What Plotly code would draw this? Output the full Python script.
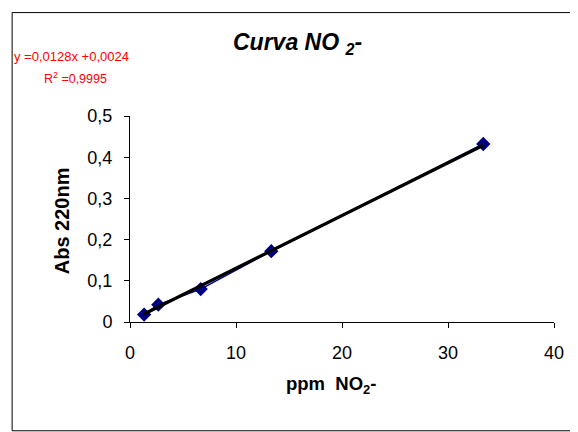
import numpy as np
import plotly.graph_objects as go

# Data
ppm_no2 = [1.33, 2.67, 6.67, 13.33, 33.33]
abs_220 = [0.018, 0.042, 0.080, 0.172, 0.432]
trend_slope = 0.0128
trend_intercept = 0.0024
r_squared = 0.9995
x_ticks = [0, 10, 20, 30, 40]
y_ticks = [0, 0.1, 0.2, 0.3, 0.4, 0.5]

FONT = "Arial, Liberation Sans, sans-serif"

trend_x = np.array([min(ppm_no2), max(ppm_no2)])
trend_y = trend_slope * trend_x + trend_intercept

fig = go.Figure()
fig.add_trace(go.Scatter(
    x=ppm_no2, y=abs_220, mode="lines+markers",
    line=dict(color="#000080", width=1.5),
    marker=dict(symbol="diamond", size=11, color="#000080"),
    showlegend=False, hoverinfo="skip",
))
fig.add_trace(go.Scatter(
    x=trend_x, y=trend_y, mode="lines",
    line=dict(color="black", width=3.2),
    showlegend=False, hoverinfo="skip",
))

def fmt(v, nd):
    return f"{v:.{nd}f}".replace(".", ",")

annotations = [
    dict(text="<b><i>Curva NO <sub>2</sub>-</i></b>", x=0.396, y=1.354,
         xref="paper", yref="paper", showarrow=False, xanchor="center", yanchor="middle",
         font=dict(family=FONT, size=23, color="black")),
    dict(text=f"y ={fmt(trend_slope,4)}x +{fmt(trend_intercept,4)}", x=-0.278, y=1.291,
         xref="paper", yref="paper", showarrow=False, xanchor="left", yanchor="middle",
         font=dict(family=FONT, size=13, color="#FF0000")),
    dict(text=f"R<sup>2</sup> ={fmt(r_squared,4)}", x=-0.2075, y=1.184,
         xref="paper", yref="paper", showarrow=False, xanchor="left", yanchor="middle",
         font=dict(family=FONT, size=12.5, color="#FF0000")),
    dict(text="<b>ppm  NO<sub>2</sub>-</b>", x=0.474, y=-0.306,
         xref="paper", yref="paper", showarrow=False, xanchor="center", yanchor="middle",
         font=dict(family=FONT, size=18.5, color="black")),
    dict(text="<b>Abs 220nm</b>", x=-0.160, y=0.49, textangle=-90,
         xref="paper", yref="paper", showarrow=False, xanchor="center", yanchor="middle",
         font=dict(family=FONT, size=20, color="black")),
]

# the page body has an 8px default margin, so the figure is offset by 8px
fig.update_layout(
    width=570, height=424,
    margin=dict(l=122, r=24, t=108, b=110),
    paper_bgcolor="white", plot_bgcolor="white",
    separators=", ",
    font=dict(family=FONT, size=18, color="black"),
    annotations=annotations,
    shapes=[dict(type="rect", xref="paper", yref="paper",
                 x0=-0.278, x1=1.053, y0=-0.528, y1=1.502,
                 line=dict(color="black", width=1), layer="below")],
    xaxis=dict(range=[0, 40], tickvals=x_ticks, showgrid=False, zeroline=False,
               showline=True, linecolor="black", linewidth=1,
               ticks="outside", ticklen=5, tickcolor="black",
               ticklabelstandoff=9,
               tickfont=dict(family=FONT, size=18)),
    yaxis=dict(range=[0, 0.5], tickvals=y_ticks, showgrid=False, zeroline=False,
               showline=True, linecolor="black", linewidth=1,
               ticks="outside", ticklen=5, tickcolor="black",
               ticklabelstandoff=8,
               tickfont=dict(family=FONT, size=18)),
)

fig.write_html("out.html")
